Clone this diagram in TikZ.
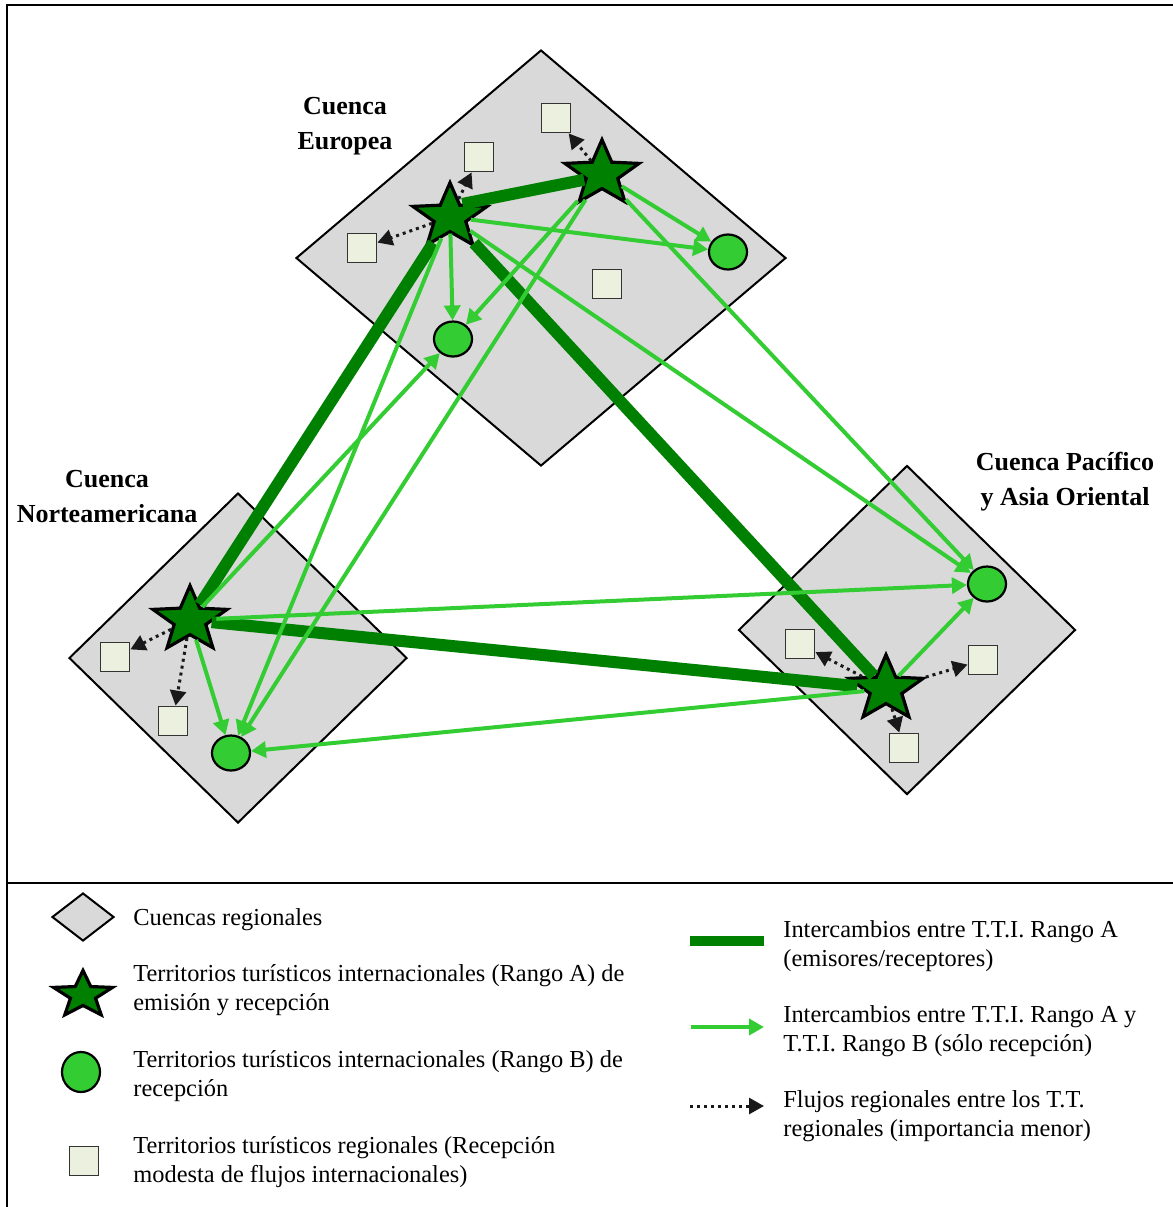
\documentclass[tikz,border=0pt]{standalone}
\usepackage{fontspec}
\setmainfont{Liberation Serif}
\usetikzlibrary{arrows.meta,positioning,shapes.geometric}

\definecolor{cuencagray}{RGB}{217,217,217}
\definecolor{rangoa}{RGB}{0,128,0}
\definecolor{rangob}{RGB}{51,204,51}
\definecolor{regfill}{RGB}{235,241,222}

\begin{document}
\begin{tikzpicture}[
  x=0.5pt,y=-0.5pt,
  cuenca/.style={diamond,draw,line width=1pt,fill=cuencagray,inner sep=0pt},
  ttia/.style={star,star points=5,star point ratio=2.35,draw,line width=1.6pt,fill=rangoa,minimum size=39pt,yscale=0.88,inner sep=0pt},
  ttib/.style={ellipse,draw,line width=1.1pt,fill=rangob,minimum width=19pt,minimum height=17.5pt,inner sep=0pt},
  ttreg/.style={draw=black!80,line width=0.9pt,fill=regfill,minimum size=14.5pt,inner sep=0pt},
  lazoA/.style={rangoa,line width=6pt},
  flujoB/.style={-{Triangle[length=7.5pt,width=8pt]},rangob,line width=2pt},
  flujoreg/.style={-{Triangle[length=7.5pt,width=8pt]},black!90,line width=1.5pt,dotted},
  etiqueta/.style={font=\fontsize{13}{17.5}\selectfont\bfseries,align=center},
  leyenda/.style={font=\fontsize{12.2}{14.5}\selectfont,align=left,anchor=west,inner sep=0pt}
]
  \useasboundingbox (0,0) rectangle (1173,1207);
  \draw[line width=1.2pt] (1173,5) -- (7,5) -- (7,1207);
  \draw[line width=1.2pt] (7,883) -- (1173,883);

  \node[cuenca,minimum width=245pt,minimum height=208pt] (eu) at (541,258) {};
  \node[cuenca,minimum width=169pt,minimum height=165pt] (na) at (238,658) {};
  \node[cuenca,minimum width=168.5pt,minimum height=164.5pt] (pa) at (907,630) {};

  \node[etiqueta] (lbleu) at (345,126) {Cuenca\\Europea};
  \node[etiqueta] (lblna) at (107,497) {Cuenca\\Norteamericana};
  \node[etiqueta] (lblpa) at (1065,482) {Cuenca Pacífico\\y Asia Oriental};

  \node[ttia] (e1) at (450,217) {};
  \node[ttia] (e2) at (602,174) {};
  \node[ttia] (n1) at (190,620) {};
  \node[ttia] (p1) at (886,689) {};

  \node[ttib] (eb1) at (728,252) {};
  \node[ttib] (eb2) at (453,339) {};
  \node[ttib] (nb) at (231,753) {};
  \node[ttib] (pb) at (987,584) {};

  \node[ttreg] (er1) at (479,157) {};
  \node[ttreg] (er2) at (556,118) {};
  \node[ttreg] (er3) at (362,248) {};
  \node[ttreg] (er4) at (607,284) {};
  \node[ttreg] (nr1) at (115,657) {};
  \node[ttreg] (nr2) at (173,721) {};
  \node[ttreg] (pr1) at (800,644) {};
  \node[ttreg] (pr2) at (983,660) {};
  \node[ttreg] (pr3) at (904,748) {};

  \draw[lazoA] (e1.50) -- (e2.200);
  \draw[lazoA] (e1) -- (n1);
  \draw[lazoA] (e1) -- (p1);
  \draw[lazoA] (n1) -- (p1);

  \draw[flujoB] (e1) -- (eb2);
  \draw[flujoB] (e1) -- (eb1);
  \draw[flujoB] (e1) -- (pb);
  \draw[flujoB] (e1) -- (nb);
  \draw[flujoB] (e2) -- (eb1);
  \draw[flujoB] (e2) -- (eb2);
  \draw[flujoB] (e2) -- (nb);
  \draw[flujoB] (e2) -- (pb);
  \draw[flujoB] (n1) -- (eb2);
  \draw[flujoB] (n1) -- (pb);
  \draw[flujoB] (n1) -- (nb);
  \draw[flujoB] (p1) -- (pb);
  \draw[flujoB] (p1) -- (nb);

  \draw[flujoreg] (e1) -- (er1);
  \draw[flujoreg] (e1) -- (er3);
  \draw[flujoreg] (e2) -- (er2);
  \draw[flujoreg] (n1) -- (nr1);
  \draw[flujoreg] (n1) -- (nr2);
  \draw[flujoreg] (p1) -- (pr1);
  \draw[flujoreg] (p1) -- (pr2);
  \draw[flujoreg] (p1) -- (pr3);

  \node[cuenca,minimum width=31pt,minimum height=24pt] (legcuenca) at (83,917) {};
  \node[leyenda] (txtcuenca) at (133,920) {Cuencas regionales};
  \node[ttia,minimum size=31pt,yscale=0.9] (legstar) at (83,995) {};
  \node[leyenda] (txtstar) at (133,990) {Territorios turísticos internacionales (Rango A) de\\emisión y recepción};
  \node[ttib,minimum width=19pt,minimum height=20pt] (legb) at (81,1072) {};
  \node[leyenda] (txtb) at (133,1076) {Territorios turísticos internacionales (Rango B) de\\recepción};
  \node[ttreg] (legreg) at (84,1161) {};
  \node[leyenda] (txtreg) at (133,1162) {Territorios turísticos regionales (Recepción\\modesta de flujos internacionales)};

  \coordinate (lega1) at (690,941);
  \coordinate (lega2) at (764,941);
  \draw[lazoA,line width=5.4pt] (lega1) -- (lega2);
  \node[leyenda] (txta) at (783,946) {Intercambios entre T.T.I. Rango A\\(emisores/receptores)};
  \coordinate (legb1) at (691,1027);
  \coordinate (legb2) at (764,1027);
  \draw[flujoB] (legb1) -- (legb2);
  \node[leyenda] (txtflujob) at (783,1031) {Intercambios entre T.T.I. Rango A y\\T.T.I. Rango B (sólo recepción)};
  \coordinate (legr1) at (690,1106);
  \coordinate (legr2) at (764,1106);
  \draw[flujoreg] (legr1) -- (legr2);
  \node[leyenda] (txtflujoreg) at (783,1116) {Flujos regionales entre los T.T.\\regionales (importancia menor)};
\end{tikzpicture}
\end{document}
